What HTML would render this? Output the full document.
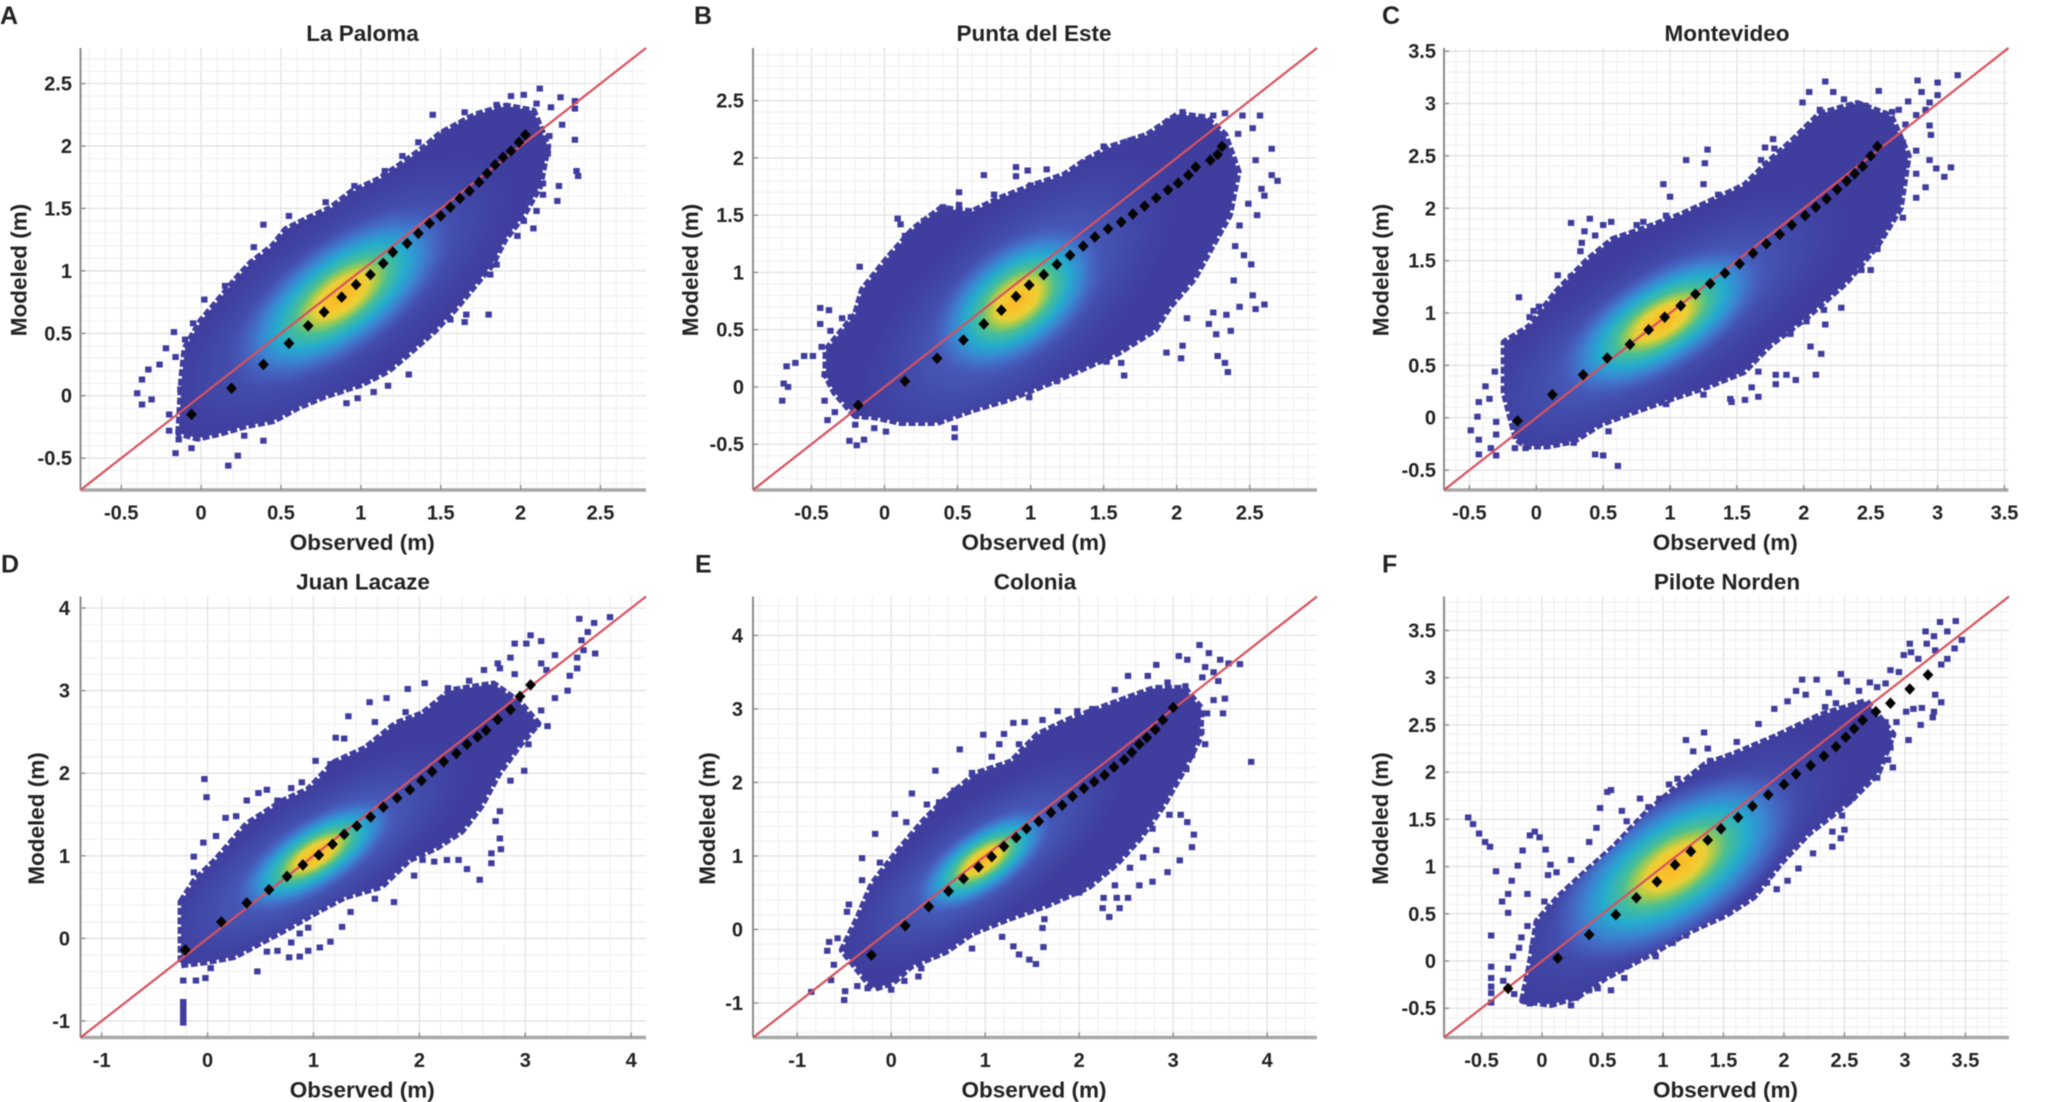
<!DOCTYPE html>
<html lang="en">
<head>
<meta charset="utf-8">
<title>Observed vs Modeled water level at six stations</title>
<style>
html,body{margin:0;padding:0;background:#fff;width:2070px;height:1102px;overflow:hidden}
svg{display:block;filter:blur(0.55px)}
text{font-family:"Liberation Sans",sans-serif;font-weight:bold;fill:#222}
</style>
</head>
<body>
<svg id="fig" xmlns="http://www.w3.org/2000/svg" width="2070" height="1102" viewBox="0 0 2070 1102">
<defs>
<radialGradient id="core">
<stop offset="0" stop-color="#f6b52a"/>
<stop offset="0.14" stop-color="#f8c52c"/>
<stop offset="0.24" stop-color="#e8d038"/>
<stop offset="0.32" stop-color="#a0ca50"/>
<stop offset="0.42" stop-color="#48bf95"/>
<stop offset="0.58" stop-color="#24abcf"/>
<stop offset="0.72" stop-color="#3a88d2" stop-opacity="0.95"/>
<stop offset="0.86" stop-color="#4568c6" stop-opacity="0.7"/>
<stop offset="1" stop-color="#4455b8" stop-opacity="0"/>
</radialGradient>
<radialGradient id="halo">
<stop offset="0" stop-color="#4a6cc8" stop-opacity="0.9"/>
<stop offset="0.55" stop-color="#475cb8" stop-opacity="0.7"/>
<stop offset="1" stop-color="#4048a6" stop-opacity="0"/>
</radialGradient>
</defs>
</svg>
<script>
/* ---------- A: La Paloma ---------- */
const aBinObs=[-0.06,0.19,0.39,0.55,0.67,0.77,0.88,0.97,1.06,1.14,1.20,1.29,1.36,1.43,1.50,1.56,1.62,1.68,1.74,1.79,1.84,1.89,1.94,1.99,2.03];
const aBinMod=[-0.15,0.06,0.25,0.42,0.56,0.67,0.79,0.89,0.97,1.06,1.15,1.22,1.30,1.38,1.44,1.51,1.58,1.64,1.71,1.78,1.85,1.91,1.96,2.03,2.09];
const aCloud=[[-0.14,-0.30],[-0.13,-0.08],[-0.12,0.15],[-0.10,0.38],[0.00,0.60],[0.10,0.75],[0.23,0.95],[0.31,1.06],[0.45,1.20],[0.53,1.33],[0.67,1.42],[0.81,1.50],[0.94,1.63],[1.11,1.73],[1.25,1.85],[1.39,1.98],[1.50,2.10],[1.72,2.25],[1.91,2.32],[2.08,2.28],[2.17,2.0],[2.12,1.68],[2.02,1.45],[1.90,1.25],[1.82,1.05],[1.71,0.88],[1.60,0.71],[1.46,0.52],[1.30,0.34],[1.17,0.20],[1.00,0.09],[0.78,0.00],[0.61,-0.09],[0.45,-0.20],[0.28,-0.24],[0.12,-0.30],[-0.02,-0.34]];
const aOut=[[-0.40,0.02],[-0.37,-0.07],[-0.37,0.13],[-0.33,0.21],[-0.31,-0.03],[-0.26,0.25],[-0.22,0.38],[-0.17,0.51],[-0.10,0.45],[-0.16,0.31],[-0.07,0.16],[-0.13,0.05],[-0.20,-0.15],[-0.20,-0.28],[-0.14,-0.35],[-0.06,-0.42],[-0.16,-0.46],[0.17,-0.56],[0.23,-0.48],[0.39,-0.36],[0.27,-0.32],[0.02,0.77],[-0.05,0.58],[0.33,1.19],[0.15,0.88],[0.39,1.37],[0.55,1.44],[0.78,1.55],[0.96,1.68],[1.15,1.80],[1.26,1.92],[1.36,2.03],[1.45,2.25],[1.52,2.10],[1.65,2.27],[1.63,2.17],[1.74,2.18],[1.85,2.33],[1.94,2.40],[2.02,2.41],[2.12,2.46],[2.10,2.34],[2.25,2.39],[2.19,2.31],[2.34,2.36],[2.34,2.30],[2.26,2.17],[2.18,2.08],[2.34,2.05],[2.17,1.94],[2.35,1.80],[2.36,1.76],[2.24,1.68],[2.14,1.70],[2.14,1.61],[2.23,1.56],[2.10,1.48],[2.02,1.40],[2.08,1.34],[1.98,1.28],[1.85,1.05],[1.81,0.97],[1.80,0.65],[1.66,0.65],[1.65,0.59],[1.56,0.61],[1.40,0.51],[1.30,0.17],[1.17,0.08],[1.08,0.03],[0.98,-0.02],[0.91,-0.06]];
const aTicks=[-0.5,0,0.5,1,1.5,2,2.5];
const aLimits=[-0.755,2.785];
const aDensity=[0.88,0.80,0.92,0.42,47,1.55,0.62];

/* ---------- B: Punta del Este ---------- */
const bBinObs=[-0.18,0.14,0.36,0.54,0.68,0.80,0.90,0.99,1.09,1.18,1.27,1.36,1.44,1.53,1.62,1.70,1.78,1.86,1.94,2.01,2.08,2.13,2.23,2.28,2.31];
const bBinMod=[-0.16,0.05,0.25,0.41,0.55,0.67,0.79,0.89,0.98,1.07,1.15,1.23,1.31,1.38,1.44,1.51,1.58,1.65,1.72,1.78,1.85,1.92,1.98,2.03,2.10];
const bCloud=[[-0.20,-0.25],[-0.34,-0.05],[-0.40,0.10],[-0.40,0.32],[-0.20,0.63],[-0.15,0.85],[0.02,1.12],[0.20,1.38],[0.39,1.56],[0.60,1.53],[0.78,1.64],[1.02,1.76],[1.23,1.85],[1.38,1.98],[1.56,2.10],[1.80,2.20],[2.01,2.38],[2.20,2.35],[2.33,2.20],[2.42,1.88],[2.36,1.50],[2.25,1.25],[2.12,0.95],[1.95,0.70],[1.85,0.50],[1.60,0.30],[1.32,0.14],[1.08,0.01],[0.84,-0.11],[0.60,-0.20],[0.36,-0.31],[0.11,-0.31],[-0.07,-0.26]];
const bOut=[[-0.70,-0.12],[-0.69,0.03],[-0.66,0.00],[-0.67,0.18],[-0.61,0.21],[-0.55,0.27],[-0.49,0.27],[-0.44,0.55],[-0.38,0.67],[-0.44,0.69],[-0.37,0.49],[-0.43,0.35],[-0.41,0.11],[-0.41,-0.12],[-0.39,-0.29],[-0.34,-0.22],[-0.29,0.60],[-0.23,0.61],[-0.17,1.05],[0.01,1.04],[0.09,1.47],[0.11,1.42],[0.14,1.32],[0.27,1.45],[0.40,1.57],[0.51,1.70],[0.51,1.59],[0.68,1.85],[0.75,1.68],[0.90,1.92],[0.98,1.89],[1.11,1.90],[0.90,1.84],[1.00,1.76],[1.38,1.96],[1.50,2.10],[1.68,2.15],[1.83,2.18],[1.94,2.32],[2.04,2.40],[2.25,2.37],[2.33,2.39],[2.45,2.37],[2.57,2.37],[2.52,2.26],[2.42,2.21],[2.54,1.98],[2.65,2.08],[2.65,1.85],[2.69,1.80],[2.58,1.73],[2.60,1.67],[2.49,1.60],[2.55,1.50],[2.43,1.41],[2.40,1.23],[2.46,1.15],[2.51,1.07],[2.39,0.93],[2.52,0.80],[2.60,0.72],[2.54,0.68],[2.43,0.70],[2.34,0.63],[2.25,0.65],[2.22,0.55],[2.37,0.49],[2.27,0.46],[2.07,0.60],[2.04,0.36],[2.03,0.25],[1.93,0.30],[2.28,0.27],[2.33,0.21],[2.35,0.13],[1.62,0.21],[1.64,0.10],[1.52,0.22],[1.18,0.05],[0.99,-0.09],[0.48,-0.36],[0.48,-0.44],[0.01,-0.39],[-0.07,-0.36],[-0.19,-0.51],[-0.24,-0.47],[-0.14,-0.46],[-0.20,-0.33]];
const bTicks=[-0.5,0,0.5,1,1.5,2,2.5];
const bLimits=[-0.90,2.96];
const bDensity=[0.91,0.755,0.80,0.46,52,1.6,0.72];

/* ---------- C: Montevideo ---------- */
const cBinObs=[-0.14,0.12,0.35,0.53,0.70,0.84,0.96,1.08,1.19,1.30,1.41,1.52,1.62,1.72,1.82,1.91,2.01,2.09,2.17,2.25,2.32,2.38,2.44,2.50,2.55];
const cBinMod=[-0.03,0.22,0.41,0.57,0.70,0.84,0.96,1.07,1.18,1.28,1.38,1.47,1.57,1.66,1.75,1.84,1.93,2.01,2.09,2.18,2.26,2.33,2.40,2.50,2.59];
const cCloud=[[-0.15,-0.20],[-0.24,0.24],[-0.24,0.72],[-0.05,0.87],[0.15,1.20],[0.38,1.50],[0.57,1.70],[0.80,1.80],[1.07,1.93],[1.33,2.08],[1.56,2.22],[1.72,2.42],[1.92,2.65],[2.12,2.90],[2.40,3.00],[2.65,2.88],[2.78,2.50],[2.72,2.00],[2.55,1.65],[2.32,1.30],[2.02,0.96],[1.75,0.70],[1.55,0.44],[1.28,0.30],[1.00,0.18],[0.71,0.05],[0.48,-0.06],[0.28,-0.22],[0.08,-0.27],[-0.08,-0.27]];
const cOut=[[-0.49,-0.12],[-0.43,-0.21],[-0.43,-0.35],[-0.44,0.01],[-0.43,0.15],[-0.38,0.30],[-0.31,0.44],[-0.35,0.18],[-0.30,-0.04],[-0.30,-0.16],[-0.30,-0.36],[-0.34,-0.29],[-0.16,-0.29],[-0.08,-0.29],[-0.13,1.15],[-0.02,1.02],[0.02,1.06],[-0.05,0.96],[0.16,1.36],[0.26,1.35],[0.31,1.35],[0.26,1.86],[0.36,1.78],[0.44,1.74],[0.40,1.90],[0.50,1.84],[0.56,1.87],[0.34,1.67],[0.33,1.59],[0.75,1.84],[0.80,1.87],[0.97,1.93],[0.95,2.23],[1.00,2.11],[1.12,2.46],[1.26,2.43],[1.28,2.56],[1.25,2.23],[1.36,2.13],[1.71,2.58],[1.77,2.66],[1.78,2.57],[1.68,2.46],[1.99,3.01],[2.04,3.11],[2.16,3.21],[2.22,3.11],[2.30,3.04],[2.35,2.98],[2.12,2.94],[2.56,3.12],[2.46,2.98],[2.66,2.92],[2.71,2.94],[2.78,3.02],[2.85,3.22],[2.88,3.11],[3.00,3.20],[3.00,3.08],[2.94,3.01],[3.15,3.27],[2.91,2.94],[2.84,2.89],[2.94,2.79],[2.95,2.70],[2.76,2.80],[2.74,2.63],[2.84,2.55],[2.76,2.41],[2.94,2.46],[2.99,2.38],[3.10,2.39],[3.05,2.30],[2.84,2.33],[2.91,2.20],[2.84,2.10],[2.74,1.91],[2.59,1.74],[2.55,1.61],[2.43,1.41],[2.50,1.41],[2.27,1.26],[2.28,1.05],[2.15,1.03],[2.16,0.89],[2.02,0.92],[1.90,0.80],[2.05,0.68],[2.13,0.61],[2.09,0.41],[1.94,0.36],[1.79,0.41],[1.87,0.41],[1.79,0.32],[1.66,0.44],[1.61,0.29],[1.66,0.20],[1.56,0.17],[1.45,0.18],[1.46,0.15],[1.25,0.22],[0.97,0.13],[0.54,-0.13],[0.44,-0.35],[0.50,-0.36],[0.61,-0.46],[0.28,-0.24]];
const cTicks=[-0.5,0,0.5,1,1.5,2,2.5,3,3.5];
const cLimits=[-0.69,3.53];
const cDensity=[0.94,0.92,1.00,0.46,42,1.9,0.70];

/* ---------- D: Juan Lacaze ---------- */
const dBinObs=[-0.21,0.13,0.37,0.58,0.75,0.90,1.05,1.18,1.29,1.41,1.54,1.66,1.79,1.91,2.02,2.12,2.23,2.35,2.45,2.55,2.63,2.74,2.86,2.95,3.05];
const dBinMod=[-0.14,0.20,0.43,0.59,0.75,0.89,1.01,1.14,1.26,1.36,1.47,1.59,1.70,1.80,1.91,2.02,2.14,2.24,2.35,2.44,2.52,2.65,2.77,2.93,3.07];
const dCloud=[[-0.25,0.44],[-0.12,0.70],[0.08,0.95],[0.37,1.38],[0.71,1.66],[0.95,1.80],[1.20,2.13],[1.49,2.30],[1.78,2.60],[2.03,2.72],[2.30,3.00],[2.70,3.08],[2.95,2.85],[3.12,2.60],[2.95,2.35],[2.75,2.00],[2.58,1.60],[2.40,1.30],[2.16,1.10],[1.90,0.95],[1.64,0.63],[1.29,0.50],[1.04,0.33],[0.75,0.12],[0.50,-0.05],[0.25,-0.22],[0.00,-0.28],[-0.25,-0.32]];
const dOut=[[-0.23,-0.51],[-0.23,-0.77],[-0.23,-0.84],[-0.23,-0.90],[-0.23,-0.97],[-0.23,-1.02],[-0.11,-0.51],[-0.02,-0.48],[0.03,-0.36],[0.47,-0.40],[-0.03,1.93],[-0.01,1.71],[-0.13,0.99],[-0.13,0.80],[-0.04,1.16],[0.08,1.24],[0.17,1.46],[0.27,1.48],[0.37,1.67],[0.48,1.76],[0.56,1.80],[0.66,1.67],[0.79,1.82],[0.89,1.89],[1.02,2.15],[1.16,2.11],[1.21,2.43],[1.29,2.42],[1.33,2.69],[1.53,2.86],[1.69,2.91],[1.58,2.62],[1.87,2.74],[1.89,3.02],[2.05,3.09],[2.27,3.03],[2.25,2.91],[2.47,3.12],[2.61,3.25],[2.74,3.33],[2.90,3.57],[3.05,3.67],[3.15,3.60],[3.01,3.57],[2.86,3.40],[2.76,3.27],[2.90,3.20],[3.15,3.33],[3.28,3.43],[3.20,3.25],[3.51,3.87],[3.65,3.82],[3.80,3.89],[3.59,3.71],[3.53,3.61],[3.55,3.49],[3.66,3.45],[3.49,3.40],[3.49,3.27],[3.42,3.18],[3.40,3.00],[3.28,2.91],[3.15,2.76],[3.21,2.57],[3.11,2.59],[2.99,2.03],[3.03,2.35],[2.86,1.91],[2.76,1.54],[2.72,1.42],[2.76,1.21],[2.77,1.08],[2.68,1.03],[2.68,0.91],[2.57,0.71],[2.45,0.84],[2.37,0.95],[2.26,0.95],[2.14,0.93],[2.03,0.95],[1.95,0.76],[1.76,0.44],[1.58,0.48],[1.35,0.32],[1.27,0.14],[1.16,-0.04],[1.06,-0.11],[0.95,-0.15],[0.87,-0.22],[0.77,-0.23],[0.66,-0.15],[0.56,-0.16],[0.79,-0.05],[0.87,0.06],[0.95,0.13]];
const dTicks=[-1,0,1,2,3,4];
const dLimits=[-1.20,4.14];
const dDensity=[1.02,1.01,1.00,0.42,42,2.0,0.72];

/* ---------- E: Colonia ---------- */
const eBinObs=[-0.21,0.15,0.40,0.61,0.77,0.93,1.07,1.20,1.33,1.44,1.57,1.70,1.82,1.93,2.05,2.16,2.27,2.37,2.48,2.56,2.64,2.72,2.81,2.89,3.00];
const eBinMod=[-0.35,0.05,0.31,0.52,0.69,0.85,0.99,1.13,1.25,1.37,1.47,1.59,1.69,1.81,1.92,2.01,2.10,2.21,2.31,2.41,2.52,2.61,2.72,2.85,3.02];
const eCloud=[[-0.26,-0.70],[-0.52,-0.28],[-0.35,0.17],[-0.20,0.62],[0.07,1.06],[0.35,1.48],[0.63,1.83],[0.91,2.12],[1.28,2.28],[1.56,2.65],[1.89,2.85],[2.31,3.05],[2.80,3.28],[3.12,3.28],[3.30,3.00],[3.28,2.60],[3.10,2.15],[2.90,1.70],[2.65,1.25],[2.40,0.90],[2.10,0.58],[1.65,0.33],[1.23,0.14],[0.86,-0.05],[0.58,-0.30],[0.21,-0.50],[0.02,-0.72],[-0.17,-0.80]];
const eOut=[[-0.85,-0.85],[-0.64,-0.69],[-0.50,-0.96],[-0.49,-0.84],[-0.36,-0.77],[-0.25,-0.80],[0.00,-0.82],[0.02,-0.66],[-0.61,-0.48],[-0.66,-0.17],[-0.68,-0.29],[-0.57,-0.12],[-0.47,0.24],[-0.45,0.34],[-0.31,0.97],[-0.31,0.67],[-0.12,0.91],[-0.17,1.30],[0.04,1.57],[0.16,1.46],[0.22,1.85],[0.38,1.70],[0.47,2.16],[0.51,1.73],[0.67,1.89],[0.73,2.45],[0.86,2.13],[0.98,2.65],[1.20,2.66],[1.15,2.52],[1.07,2.35],[1.30,2.81],[1.42,2.82],[1.61,2.85],[1.36,2.52],[1.77,2.97],[1.98,2.97],[2.14,3.00],[2.38,3.26],[2.52,3.45],[2.73,3.45],[2.82,3.60],[2.68,3.19],[3.06,3.72],[3.15,3.67],[2.94,3.36],[3.13,3.31],[3.28,3.87],[3.38,3.76],[3.50,3.67],[3.71,3.61],[3.59,3.62],[3.34,3.57],[3.43,3.50],[3.31,3.43],[3.48,3.38],[3.55,3.14],[3.43,3.12],[3.53,2.94],[3.36,2.94],[3.24,2.81],[3.30,2.69],[3.34,2.52],[3.20,2.37],[3.83,2.28],[3.14,2.18],[3.08,1.56],[3.15,1.46],[3.22,1.29],[3.20,1.12],[3.07,0.94],[2.94,0.78],[2.78,0.65],[2.64,0.60],[2.96,1.56],[2.78,1.37],[2.82,1.08],[2.68,0.98],[2.52,1.18],[2.54,0.84],[2.38,0.60],[2.52,0.43],[2.40,0.43],[2.26,0.43],[2.25,0.29],[2.43,0.29],[2.32,0.17],[2.00,0.50],[1.63,0.14],[1.61,0.02],[1.62,-0.24],[1.30,-0.23],[1.36,-0.34],[1.47,-0.41],[1.54,-0.47],[1.18,-0.10],[0.86,-0.26],[0.32,-0.53],[0.29,-0.64],[0.14,-0.70]];
const eTicks=[-1,0,1,2,3,4];
const eLimits=[-1.47,4.53];
const eDensity=[0.98,0.935,1.00,0.44,45,2.1,0.76];

/* ---------- F: Pilote Norden ---------- */
const fBinObs=[-0.28,0.13,0.39,0.61,0.78,0.95,1.10,1.23,1.37,1.48,1.62,1.74,1.87,2.00,2.10,2.22,2.33,2.43,2.51,2.58,2.65,2.76,2.88,3.04,3.19];
const fBinMod=[-0.29,0.03,0.28,0.49,0.67,0.84,1.02,1.16,1.28,1.40,1.52,1.64,1.76,1.87,1.98,2.07,2.17,2.27,2.37,2.46,2.55,2.64,2.73,2.88,3.03];
const fCloud=[[-0.16,-0.42],[-0.10,-0.05],[-0.04,0.42],[0.14,0.68],[0.37,0.95],[0.59,1.20],[0.85,1.55],[1.06,1.78],[1.35,2.08],[1.61,2.20],[1.94,2.38],[2.30,2.60],[2.68,2.75],[2.90,2.40],[2.78,2.00],[2.55,1.70],[2.20,1.35],[1.98,1.05],[1.75,0.68],[1.52,0.49],[1.21,0.31],[0.96,0.12],[0.74,-0.03],[0.52,-0.18],[0.30,-0.37],[0.08,-0.46]];
const fOut=[[-0.61,1.52],[-0.57,1.45],[-0.52,1.35],[-0.47,1.26],[-0.43,1.21],[-0.38,0.95],[-0.25,0.85],[-0.28,0.71],[-0.33,0.63],[-0.28,0.51],[-0.12,0.71],[-0.20,1.01],[-0.16,1.17],[-0.10,1.33],[-0.06,1.37],[-0.02,1.31],[0.03,1.18],[0.07,1.02],[0.05,0.91],[0.12,0.94],[0.24,1.07],[0.02,0.63],[-0.17,0.25],[-0.12,0.37],[-0.03,0.37],[-0.19,0.14],[-0.08,0.14],[-0.42,0.27],[-0.42,-0.06],[-0.42,-0.18],[-0.42,-0.27],[-0.42,-0.34],[-0.42,-0.44],[-0.24,0.05],[-0.28,-0.08],[-0.32,-0.21],[-0.23,-0.35],[-0.15,-0.38],[-0.10,-0.45],[-0.01,-0.41],[0.16,-0.37],[0.24,-0.47],[0.28,-0.39],[0.39,-0.31],[0.46,-0.29],[0.57,-0.31],[0.68,-0.18],[0.68,-0.06],[0.79,0.01],[0.94,0.05],[1.08,0.19],[1.19,0.27],[0.39,1.26],[0.45,1.41],[0.48,1.62],[0.54,1.79],[0.57,1.81],[0.66,1.59],[0.70,1.48],[0.81,1.72],[0.88,1.63],[0.97,1.72],[1.05,1.87],[1.12,1.93],[1.19,2.34],[1.34,2.42],[1.25,2.22],[1.37,2.25],[1.39,2.12],[1.61,2.32],[1.79,2.51],[1.92,2.67],[2.03,2.75],[2.10,2.86],[2.15,2.98],[2.27,2.98],[2.18,2.82],[2.37,2.84],[2.47,3.04],[2.52,2.96],[2.62,2.86],[2.43,2.73],[2.34,2.69],[2.71,2.95],[2.77,2.90],[2.84,2.94],[2.88,3.08],[2.95,3.06],[3.04,3.36],[2.99,3.24],[3.05,3.27],[3.11,3.20],[3.17,3.49],[3.24,3.44],[3.29,3.59],[3.35,3.49],[3.42,3.60],[3.47,3.40],[3.41,3.31],[3.35,3.20],[3.30,3.14],[3.25,3.29],[3.18,3.36],[3.25,2.82],[3.30,2.74],[3.24,2.64],[3.23,2.58],[3.14,2.68],[3.07,2.67],[3.01,2.64],[3.13,2.50],[3.03,2.34],[2.93,2.53],[2.84,2.53],[2.83,2.41],[2.88,2.26],[2.90,2.05],[2.86,2.13],[2.77,1.94],[2.54,1.70],[2.48,1.54],[2.50,1.39],[2.47,1.30],[2.40,1.37],[2.40,1.21],[2.24,1.14],[2.12,0.98],[2.03,0.85],[1.94,0.76],[1.86,0.83]];
const fTicks=[-0.5,0,0.5,1,1.5,2,2.5,3,3.5];
const fLimits=[-0.81,3.86];
const fDensity=[1.10,1.00,1.30,0.65,45,2.0,0.74];

/* ---------- layout ---------- */
const letters=['A','B','C','D','E','F'];
const titles=['La Paloma','Punta del Este','Montevideo','Juan Lacaze','Colonia','Pilote Norden'];
const leftEdges=[80.5,753,1444,80.5,753,1444];
const rightEdges=[646,1317,2008.5,646,1317,2009];
const topEdges=[48,48,48,596.5,596.5,596.5];
const bottomEdges=[490,490,490,1037.5,1037.5,1037.5];
const yLabelX=[18.5,690,1380.5,36,707,1380];
const yTickRight=[72,744,1436,70,743,1436];
const letterX=[0,694,1382,1,695,1382];
const titleX=[362.5,1034,1727,363,1035,1727];
const allBinObs=[aBinObs,bBinObs,cBinObs,dBinObs,eBinObs,fBinObs];
const allBinMod=[aBinMod,bBinMod,cBinMod,dBinMod,eBinMod,fBinMod];
const allCloud=[aCloud,bCloud,cCloud,dCloud,eCloud,fCloud];
const allOut=[aOut,bOut,cOut,dOut,eOut,fOut];
const allTicks=[aTicks,bTicks,cTicks,dTicks,eTicks,fTicks];
const allLimits=[aLimits,bLimits,cLimits,dLimits,eLimits,fLimits];
const allDensity=[aDensity,bDensity,cDensity,dDensity,eDensity,fDensity];

const NS='http://www.w3.org/2000/svg';
const fig=document.getElementById('fig');
const SCATTER='#3f3d9e';

function mk(tag,parent,attrs,txt){
  const el=document.createElementNS(NS,tag);
  for(const k in attrs){el.setAttribute(k,attrs[k]);}
  if(txt!==undefined){el.textContent=txt;}
  parent.appendChild(el);
  return el;
}

function drawPanel(i){
  const L=leftEdges[i],R=rightEdges[i],T=topEdges[i],B=bottomEdges[i];
  const lim=allLimits[i],ticks=allTicks[i];
  const lo=lim[0],hi=lim[1];
  const sx=v=>L+(v-lo)/(hi-lo)*(R-L);
  const sy=v=>B-(v-lo)/(hi-lo)*(B-T);
  const kx=(R-L)/(hi-lo),ky=(B-T)/(hi-lo);
  const key=letters[i].toLowerCase();

  const g=mk('g',fig,{});
  
  

  /* grid */
  const grid=mk('g',g,{});
  
  
  const step=ticks[1]-ticks[0];
  const minor=step/5;
  const start=Math.ceil(lo/minor),end=Math.floor(hi/minor);
  for(let n=start;n<=end;n++){
    const v=n*minor;
    const isMajor=Math.abs(v/step-Math.round(v/step))<1e-6;
    const col=isMajor?'#e0e0e0':'#f1f1f1';
    const vl=mk('line',grid,{x1:sx(v),x2:sx(v),y1:T,y2:B,stroke:col,'stroke-width':1.2});
    
    
    const hl=mk('line',grid,{x1:L,x2:R,y1:sy(v),y2:sy(v),stroke:col,'stroke-width':1.2});
    
    
  }

  /* axes */
  const ya=mk('line',g,{x1:L,x2:L,y1:T,y2:B,stroke:'#8c8c8c','stroke-width':2});
  
  
  const xa=mk('line',g,{x1:L,x2:R,y1:B,y2:B,stroke:'#a8a8a8','stroke-width':3.4});
  
  

  /* density cloud */
  const cloudPts=allCloud[i].map(p=>sx(p[0])+','+sy(p[1])).join(' ');
  const cloud=mk('polygon',g,{points:cloudPts,fill:SCATTER,stroke:SCATTER,'stroke-width':7,'stroke-dasharray':'7 2.5','stroke-linejoin':'round'});
  
  

  /* outlying points */
  allOut[i].forEach(p=>{
    const r=mk('rect',g,{x:sx(p[0])-3.2,y:sy(p[1])-3,width:6.4,height:6,fill:SCATTER});
    
    
  });

  /* density colour ellipses, clipped to the cloud */
  const cp=mk('clipPath',g,{id:'clip-'+key});
  mk('polygon',cp,{points:cloudPts});
  const dens=mk('g',g,{'clip-path':'url(#clip-'+key+')'});
  
  
  const d=allDensity[i];
  const a=d[4]*Math.PI/180,cos=Math.cos(a),sin=Math.sin(a);
  const cx=sx(d[0]),cy=sy(d[1]);
  const hm=d[5],hn=d[6];
  const halo=mk('circle',dens,{r:1,fill:'url(#halo)',transform:`matrix(${hm*cos*kx},${-hm*sin*ky},${hn*sin*kx},${hn*cos*ky},${cx},${cy})`});
  
  
  const cm=d[2],cn=d[3];
  const core=mk('circle',dens,{r:1,fill:'url(#core)',transform:`matrix(${cm*cos*kx},${-cm*sin*ky},${cn*sin*kx},${cn*cos*ky},${cx},${cy})`});
  
  

  /* 1:1 line */
  const one=mk('line',g,{x1:sx(lo),y1:sy(lo),x2:sx(hi),y2:sy(hi),stroke:'#d8525f','stroke-width':2.2});
  
  

  /* binned means */
  const obs=allBinObs[i],mod=allBinMod[i];
  obs.forEach((o,j)=>{
    const x=sx(o),y=sy(mod[j]);
    const m=mk('polygon',g,{points:`${x-5.4},${y} ${x},${y-5.8} ${x+5.4},${y} ${x},${y+5.8}`,fill:'#050505'});
    
    
  });

  /* tick marks and labels */
  ticks.forEach(t=>{
    const tx=mk('line',g,{x1:sx(t),x2:sx(t),y1:B,y2:B-5,stroke:'#8c8c8c','stroke-width':1.4});
    
    
    const ty=mk('line',g,{x1:L,x2:L+5,y1:sy(t),y2:sy(t),stroke:'#8c8c8c','stroke-width':1.4});
    
    
    const lx=mk('text',g,{x:sx(t),y:B+29.5,'font-size':20,'text-anchor':'middle'},String(t));
    
    
    const ly=mk('text',g,{x:yTickRight[i],y:sy(t)+7,'font-size':20,'text-anchor':'end'},String(t));
    
    
  });

  /* titles */
  const tt=mk('text',g,{x:titleX[i],y:T-7,'font-size':22.5,'text-anchor':'middle'},titles[i]);
  
  
  const xt=mk('text',g,{x:(L+R)/2-1,y:B+60,'font-size':22.5,'text-anchor':'middle'},'Observed (m)');
  
  
  const ymid=T+222;
  const yt=mk('text',g,{x:0,y:0,'font-size':22.5,'text-anchor':'middle',transform:`translate(${yLabelX[i]+8},${ymid}) rotate(-90)`},'Modeled (m)');
  
  
  const lt=mk('text',g,{x:letterX[i],y:T-24,'font-size':25},letters[i]);
  
  
}

for(let i=0;i<6;i++){drawPanel(i);}
</script>
</body>
</html>
